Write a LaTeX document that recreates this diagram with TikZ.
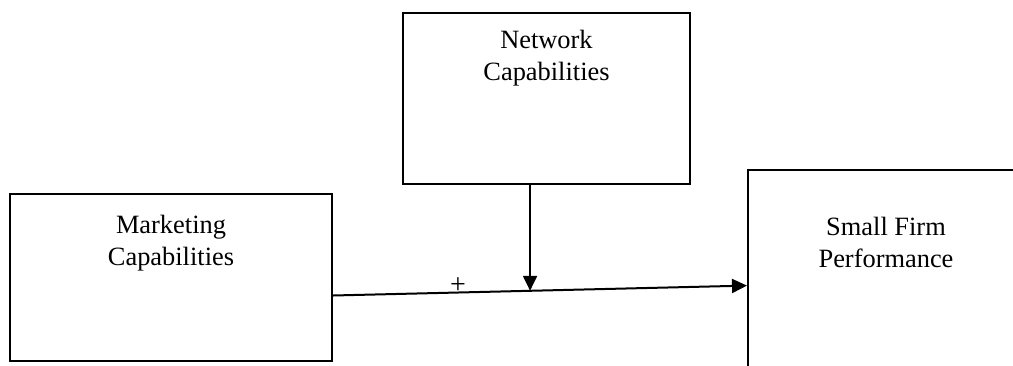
\documentclass[tikz,border=0pt]{standalone}
\usepackage{fontspec}
\setmainfont{Liberation Serif}
\usetikzlibrary{arrows.meta,calc}
\tikzset{
	capbox/.style = {rectangle, draw=black, line width=1pt, inner sep=0pt},
	captext/.style = {align=center, inner sep=0pt, anchor=north, font=\fontsize{13.2}{15.9}\selectfont},
	effect/.style = {line width=1pt, -{Triangle[length=7.5pt,width=7pt]}}
}
\begin{document}
\begin{tikzpicture}[x=0.5pt, y=-0.5pt]
		\useasboundingbox (0,0) rectangle (1013,365);
		% boxes
		\node [capbox, minimum width=143.5pt, minimum height=85.5pt] (net) at (546.5,98.5) {};
		\node [capbox, minimum width=161pt, minimum height=83.5pt] (mkt) at (171,277.5) {};
		\node [capbox, minimum width=138pt, minimum height=130pt] (sfp) at (886,300) {};
		% labels
		\node [captext] (nettext) at ([yshift=-8.8pt]net.north) {Network\\Capabilities};
		\node [captext] (mkttext) at ([yshift=-10.8pt]mkt.north) {Marketing\\Capabilities};
		\node [captext] (sfptext) at ([yshift=-23.8pt]sfp.north) {Small Firm\\Performance};
		% direct and moderating effect
		\coordinate (mktout) at ([yshift=-9pt]mkt.east);
		\coordinate (sfpin) at ([yshift=-58.3pt]sfp.north west);
		\draw [effect] (mktout) -- node [pos=0.302, anchor=south, inner sep=0pt, yshift=-1.2pt, font=\fontsize{14}{16}\selectfont] (plus) {+} (sfpin);
		\coordinate (joint) at ($(mktout)!0.476!(sfpin)$);
		\draw [effect] (net.south -| joint) -- (joint);
\end{tikzpicture}
\end{document}
